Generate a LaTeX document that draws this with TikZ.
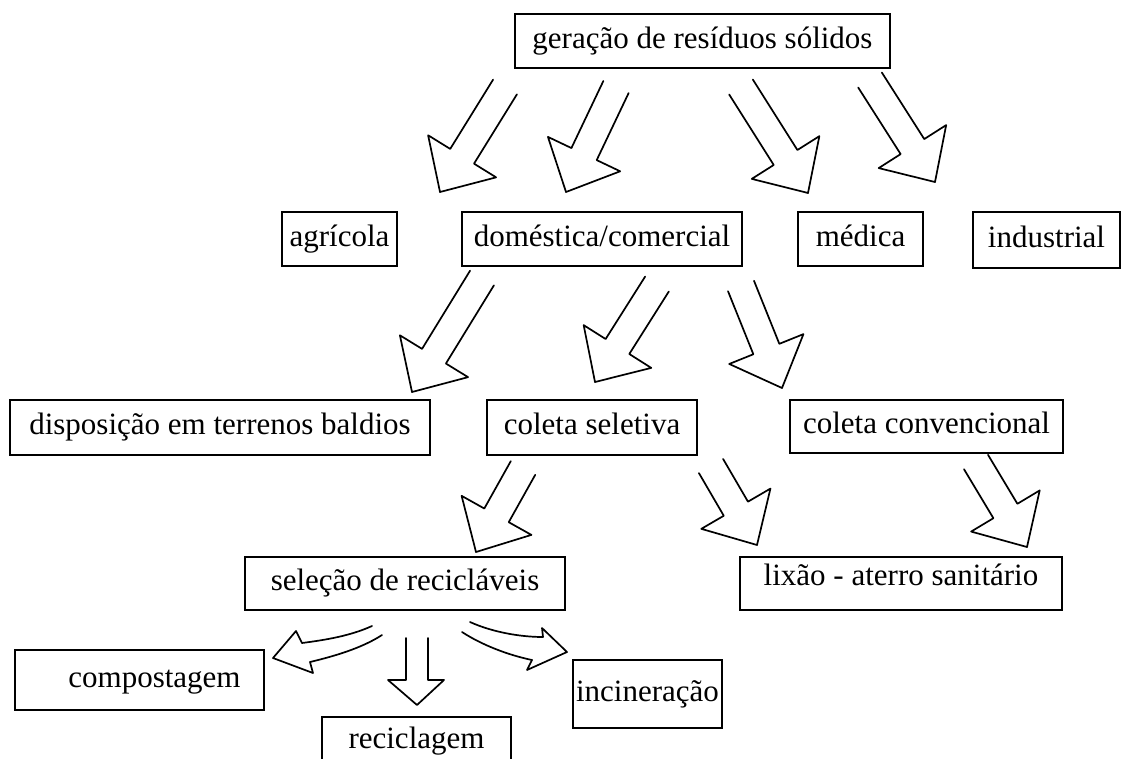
\documentclass[tikz,border=0pt]{standalone}
\usepackage{fontspec}
\setmainfont{Liberation Serif}
\usetikzlibrary{calc}
\newcommand{\blockarr}[2]{%
  \coordinate (nk) at ($(#2)!42pt!(#1)$);
  \draw[arr] ($(#1)!14pt!90:(#2)$) -- ($(nk)!14pt!90:(#2)$) -- ($(nk)!40pt!90:(#2)$)
    -- (#2) -- ($(nk)!40pt!-90:(#2)$) -- ($(nk)!14pt!-90:(#2)$) -- ($(#1)!14pt!-90:(#2)$);
}
\begin{document}
\begin{tikzpicture}[x=1pt,y=-1pt,
  box/.style={draw, line width=1.8pt, inner sep=0pt, font=\fontsize{31}{37}\selectfont, text height=21pt, text depth=7pt},
  arr/.style={line width=1.7pt, line join=round, line cap=round}]
\useasboundingbox[fill=white] (0,0) rectangle (1123,758);
% boxes
\node[box, minimum width=375pt, minimum height=54pt] (ger) at (702.5,41) {geração de resíduos sólidos};
\node[box, minimum width=115pt, minimum height=54pt] (agr) at (339.5,239) {agrícola};
\node[box, minimum width=280pt, minimum height=54pt] (dom) at (602,239) {doméstica/comercial};
\node[box, minimum width=125pt, minimum height=54pt] (med) at (860.5,239) {médica};
\node[box, minimum width=147pt, minimum height=56pt] (ind) at (1046.5,240) {industrial};
\node[box, minimum width=420pt, minimum height=55pt] (dis) at (220,427.5) {disposição em terrenos baldios};
\node[box, minimum width=210pt, minimum height=55pt] (sel) at (592,427.5) {coleta seletiva};
\node[box, minimum width=273pt, minimum height=53pt] (con) at (926.5,426.5) {coleta convencional};
\node[box, minimum width=320pt, minimum height=53pt] (rec) at (405,583.5) {seleção de recicláveis};
\node[box, minimum width=322pt, minimum height=53pt] (lix) at (901,583.5) {\raisebox{5pt}{lixão - aterro sanitário}};
\node[box, minimum width=249pt, minimum height=60pt] (com) at (139.5,680) {\hspace*{30pt}compostagem};
\node[box, minimum width=189pt, minimum height=48pt] (rcl) at (416.5,741) {reciclagem};
\node[box, minimum width=149pt, minimum height=68pt] (inc) at (647.5,694) {incineração};
% arrow end points
\coordinate (a1s) at (505,87);  \coordinate (a1e) at (440,192);
\coordinate (a2s) at (616,87);  \coordinate (a2e) at (566,192);
\coordinate (a3s) at (741,87);  \coordinate (a3e) at (808,193);
\coordinate (a4s) at (870,80);  \coordinate (a4e) at (935,182);
\coordinate (a5s) at (482,278); \coordinate (a5e) at (412,392);
\coordinate (a6s) at (657,284); \coordinate (a6e) at (595,382);
\coordinate (a7s) at (741,286); \coordinate (a7e) at (782,388);
\coordinate (a8s) at (523,468); \coordinate (a8e) at (476,552);
\coordinate (a9s) at (711,466); \coordinate (a9e) at (757,545);
\coordinate (a10s) at (976,462); \coordinate (a10e) at (1027,547);
\blockarr{a1s}{a1e}
\blockarr{a2s}{a2e}
\blockarr{a3s}{a3e}
\blockarr{a4s}{a4e}
\blockarr{a5s}{a5e}
\blockarr{a6s}{a6e}
\blockarr{a7s}{a7e}
\blockarr{a8s}{a8e}
\blockarr{a9s}{a9e}
\blockarr{a10s}{a10e}
% curved arrow to compostagem
\coordinate (c1a) at (372,626); \coordinate (c1b) at (382,635); \coordinate (c1t) at (273,658);
\draw[arr] (c1a) .. controls (350,636) and (325,640) .. (302,643) -- (296,631) -- (c1t)
  -- (313,673) -- (310,662) .. controls (335,656) and (362,648) .. (c1b);
% straight arrow to reciclagem
\coordinate (c2t) at (417,705);
\draw[arr] (406,638) -- (406,680) -- (388,680) -- (c2t) -- (444,680) -- (428,680) -- (428,638);
% curved arrow to incineração
\coordinate (c3a) at (470,622); \coordinate (c3b) at (462,632); \coordinate (c3t) at (567,652);
\draw[arr] (c3a) .. controls (492,632) and (520,637) .. (543,637) -- (542,628) -- (c3t)
  -- (527,670) -- (532,660) .. controls (508,655) and (482,645) .. (c3b);
\end{tikzpicture}
\end{document}
